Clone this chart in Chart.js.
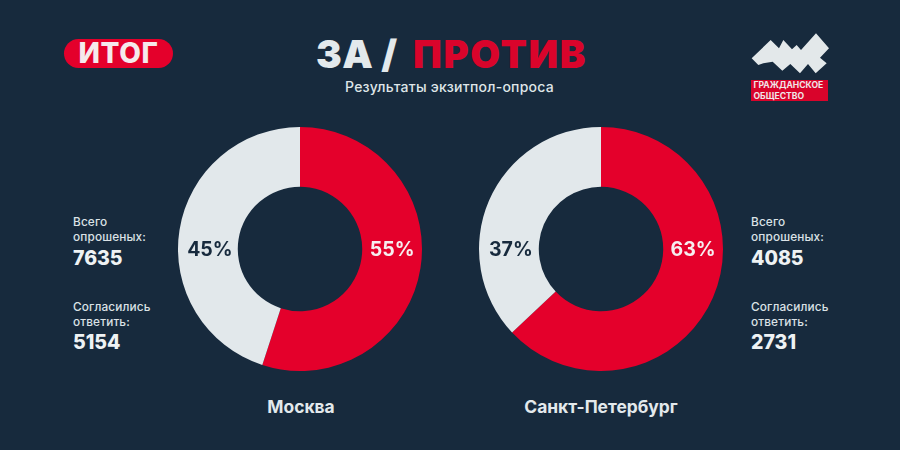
<!DOCTYPE html>
<html lang="ru">
<head>
<meta charset="utf-8">
<script src="https://cdn.jsdelivr.net/npm/chart.js@4"></script>
<style>
html,body{margin:0;padding:0;width:900px;height:450px;overflow:hidden;background:#172a3d;font-family:Inter,sans-serif;color:#e3e9ec}
.a{position:absolute;white-space:nowrap;line-height:1}
canvas{position:absolute}
.small{font-size:11.8px;font-weight:500;line-height:15px;letter-spacing:.15px;color:#dbe2e6;white-space:pre-line}
.num{font-size:19.5px;font-weight:800;color:#eef2f4}
.city{font-size:17.4px;font-weight:700;transform:translateX(-50%);color:#e3e9ec}
</style>
</head>
<body>
<div class="a" style="left:64px;top:39px;width:109px;height:29px;border-radius:15px;background:#e4002b;color:#f5e9ec;font-size:28px;font-weight:800;letter-spacing:.6px;text-align:center;line-height:29px">ИТОГ</div>
<div class="a" style="left:316px;top:35px;font-size:38.5px;font-weight:900;letter-spacing:.4px;color:#e3e9ec">ЗА /</div>
<div class="a" style="left:413px;top:35px;font-size:38.5px;font-weight:900;letter-spacing:1.6px;color:#d9042b">ПРОТИВ</div>
<div class="a" style="left:345px;top:80px;font-size:14px;font-weight:500;letter-spacing:.25px;color:#dfe5e8">Результаты экзитпол-опроса</div>

<svg class="a" style="left:730px;top:20px" width="120" height="90" viewBox="0 0 360 270">
<polygon fill="#e3e8ea" points="65,115 122,60 147,85 160,60 186,88 200,75 213,90 258,40 297,85 270,113 290,130 257,160 234,132 210,160 181,132 157,152 128,125 100,130 85,135" />
</svg>
<div class="a" style="left:751px;top:80px;width:77px;height:21px;background:#d9042b"></div>
<div class="a" style="left:753.5px;top:80px;font-size:8.6px;font-weight:700;line-height:10.8px;color:#f0e6e8;white-space:pre-line">ГРАЖДАНСКОЕ
ОБЩЕСТВО</div>

<canvas id="c0" width="260" height="260" style="left:170px;top:119px"></canvas>
<canvas id="c1" width="260" height="260" style="left:471px;top:119px"></canvas>

<div class="a small" style="left:73px;top:215px" id="l0a"></div>
<div class="a num" style="left:73px;top:249px" id="n0a"></div>
<div class="a small" style="left:73px;top:300px" id="l0b"></div>
<div class="a num" style="left:73px;top:333px" id="n0b"></div>
<div class="a small" style="left:751px;top:215px" id="l1a"></div>
<div class="a num" style="left:751px;top:249px" id="n1a"></div>
<div class="a small" style="left:751px;top:300px" id="l1b"></div>
<div class="a num" style="left:751px;top:333px" id="n1b"></div>
<div class="a city" style="left:301px;top:398px" id="city0"></div>
<div class="a city" style="left:601px;top:398px" id="city1"></div>

<script>
const cities = ["Москва", "Санкт-Петербург"];
const segments = ["Против", "За"];
const moscowValues = [55, 45];
const spbValues = [63, 37];
const totalPolled = [7635, 4085];
const agreed = [5154, 2731];
const totalLabel = "Всего\nопрошеных:";
const agreedLabel = "Согласились\nответить:";

const RED = "#e4002b", GREY = "#e2e8eb", INK = "#172a3d";

const sideLabels = {
  id: "sideLabels",
  afterDatasetsDraw(chart) {
    const ctx = chart.ctx;
    const arcs = chart.getDatasetMeta(0).data;
    const vals = chart.data.datasets[0].data;
    const cx = arcs[0].x, cy = arcs[0].y;
    const mid = (arcs[0].outerRadius + arcs[0].innerRadius) / 2;
    ctx.save();
    ctx.font = "700 19.5px Inter, sans-serif";
    ctx.textAlign = "center";
    ctx.textBaseline = "middle";
    ctx.fillStyle = "#f6eef0";
    ctx.fillText(vals[0] + "%", cx + mid, cy + 1);
    ctx.fillStyle = INK;
    ctx.fillText(vals[1] + "%", cx - mid + 2, cy + 1);
    ctx.restore();
  }
};

function donut(id, values) {
  new Chart(document.getElementById(id), {
    type: "doughnut",
    data: { labels: segments, datasets: [{ data: values, backgroundColor: [RED, GREY], borderWidth: 0 }] },
    options: {
      responsive: false,
      animation: false,
      radius: 122,
      cutout: "51%",
      layout: { padding: 0 },
      plugins: { legend: { display: false }, tooltip: { enabled: false } }
    },
    plugins: [sideLabels]
  });
}
donut("c0", moscowValues);
donut("c1", spbValues);

[0, 1].forEach(i => {
  document.getElementById("l" + i + "a").textContent = totalLabel;
  document.getElementById("l" + i + "b").textContent = agreedLabel;
  document.getElementById("n" + i + "a").textContent = totalPolled[i];
  document.getElementById("n" + i + "b").textContent = agreed[i];
  document.getElementById("city" + i).textContent = cities[i];
});
</script>
</body>
</html>
